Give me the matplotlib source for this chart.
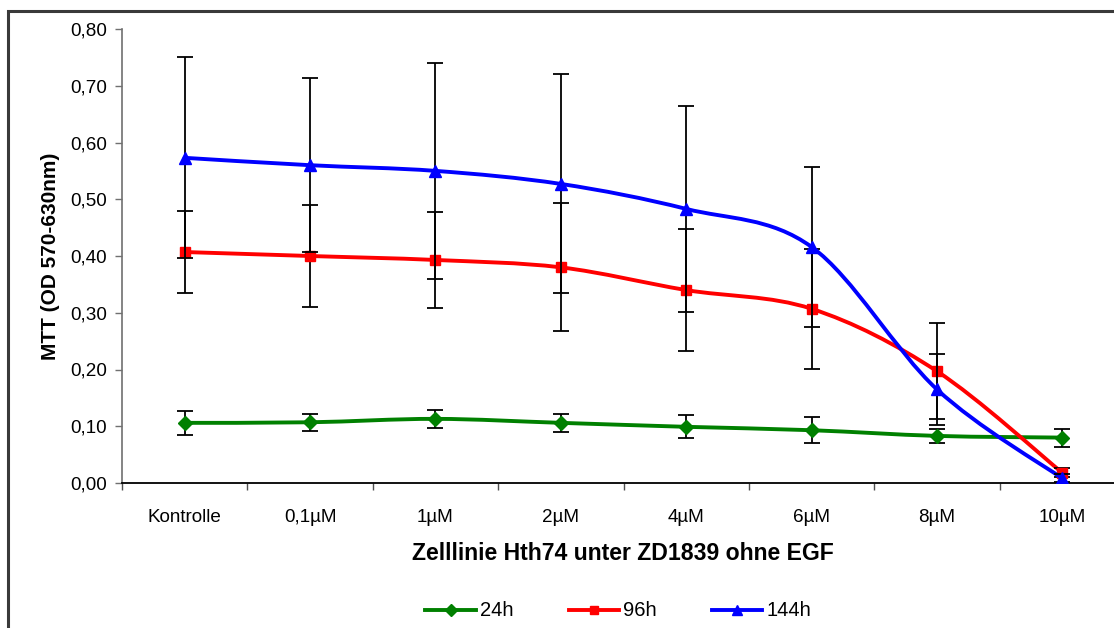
import numpy as np
import matplotlib
matplotlib.use("Agg")
import matplotlib.pyplot as plt
from matplotlib.path import Path
from matplotlib.patches import PathPatch, Rectangle
from matplotlib.lines import Line2D
from matplotlib.ticker import FixedLocator, FuncFormatter

categories = ["Kontrolle", "0,1µM", "1µM", "2µM", "4µM", "6µM", "8µM", "10µM"]
series_names = ["24h", "96h", "144h"]
v24 = [0.106, 0.107, 0.113, 0.106, 0.099, 0.093, 0.083, 0.080]
e24 = [0.021, 0.015, 0.016, 0.016, 0.020, 0.023, 0.012, 0.016]
v96 = [0.407, 0.400, 0.393, 0.380, 0.340, 0.307, 0.197, 0.018]
e96 = [0.073, 0.090, 0.085, 0.113, 0.107, 0.106, 0.085, 0.008]
v144 = [0.573, 0.560, 0.550, 0.527, 0.483, 0.416, 0.165, 0.008]
e144 = [0.177, 0.153, 0.190, 0.193, 0.181, 0.141, 0.063, 0.007]
y_ticks = [0.0, 0.1, 0.2, 0.3, 0.4, 0.5, 0.6, 0.7, 0.8]

colors = ["#008000", "#FF0000", "#0000FF"]
markers = ["D", "s", "^"]
msizes = [7, 7, 8.5]

plt.rcParams['font.family'] = ['Liberation Sans', 'DejaVu Sans']

W, H = 1114, 628
fig = plt.figure(figsize=(W / 100, H / 100), dpi=100)
fig.patch.set_facecolor("white")

# outer chart frame (right and bottom are cut off in the reference)
fig.patches.append(Rectangle((8 / W, -0.05), 1.2, 1 - 11 / H + 0.05,
                             transform=fig.transFigure, fill=False,
                             edgecolor="#3a3a3a", linewidth=2.2))

ax_left, ax_right, ax_top, ax_bottom = 122, 1125, 29, 483
ax = fig.add_axes([ax_left / W, 1 - ax_bottom / H,
                   (ax_right - ax_left) / W, (ax_bottom - ax_top) / H])
ax.set_facecolor("none")

x = np.arange(len(categories))


def smooth_path(xs, ys):
    pts = np.column_stack([xs, ys]).astype(float)
    n = len(pts)
    verts = [pts[0]]
    codes = [Path.MOVETO]
    for i in range(n - 1):
        p0 = pts[i - 1] if i > 0 else pts[i]
        p1 = pts[i]
        p2 = pts[i + 1]
        p3 = pts[i + 2] if i + 2 < n else pts[i + 1]
        c1 = p1 + (p2 - p0) / 6.0
        c2 = p2 - (p3 - p1) / 6.0
        verts += [c1, c2, p2]
        codes += [Path.CURVE4] * 3
    return Path(verts, codes)


all_vals = [v24, v96, v144]
all_errs = [e24, e96, e144]
for k, (vals, errs) in enumerate(zip(all_vals, all_errs)):
    z = 3 + k * 3
    ax.add_patch(PathPatch(smooth_path(x, vals), fill=False,
                           edgecolor=colors[k], linewidth=2.8, zorder=z,
                           capstyle="round", joinstyle="round"))
    ax.errorbar(x, vals, yerr=errs, fmt="none", ecolor="black",
                elinewidth=1.3, capsize=5.5, capthick=1.3, zorder=z + 1)
    ax.plot(x, vals, linestyle="none", marker=markers[k],
            markersize=msizes[k], color=colors[k], zorder=z + 2)

ax.set_xlim(-0.5, len(categories) - 0.5)
ax.set_ylim(0, 0.8)

ax.xaxis.set_major_locator(FixedLocator(x))
ax.set_xticklabels(categories, fontsize=13.6)
ax.xaxis.set_minor_locator(FixedLocator(np.arange(len(categories) + 1) - 0.5))
ax.tick_params(axis="x", which="major", length=0, pad=19)
ax.tick_params(axis="x", which="minor", length=5, width=1, color="#505050",
               direction="out")

ax.yaxis.set_major_locator(FixedLocator(y_ticks))
ax.yaxis.set_major_formatter(FuncFormatter(lambda v, p: f"{v:.2f}".replace(".", ",")))
ax.tick_params(axis="y", length=5, width=1, color="#707070", labelsize=13.6,
               pad=6)

for s in ["top", "right"]:
    ax.spines[s].set_visible(False)
ax.spines["left"].set_color("#707070")
ax.spines["left"].set_linewidth(1.2)
ax.spines["bottom"].set_color("black")
ax.spines["bottom"].set_linewidth(1.3)

fig.text(623 / W, 1 - 553 / H, "Zelllinie Hth74 unter ZD1839 ohne EGF",
         ha="center", va="center", fontsize=16.6, fontweight="bold")
fig.text(51 / W, 1 - 256 / H, "MTT (OD 570-630nm)", ha="center", va="center",
         rotation=90, fontsize=15, fontweight="bold")

# legend drawn by hand at the reference positions
leg_line_x = [(425, 476), (569, 619), (712, 762)]
leg_y = 610
for k, (x0, x1) in enumerate(leg_line_x):
    fig.add_artist(Line2D([x0 / W, x1 / W], [1 - leg_y / H] * 2,
                          transform=fig.transFigure, color=colors[k],
                          linewidth=2.8))
    fig.add_artist(Line2D([(x0 + x1) / 2 / W], [1 - leg_y / H],
                          transform=fig.transFigure, color=colors[k],
                          marker=markers[k], markersize=msizes[k] - 1,
                          linestyle="none"))
    fig.text((x1 + 4) / W, 1 - leg_y / H, series_names[k], ha="left",
             va="center", fontsize=14.5)

fig.savefig("out.png", dpi=100, facecolor="white")
